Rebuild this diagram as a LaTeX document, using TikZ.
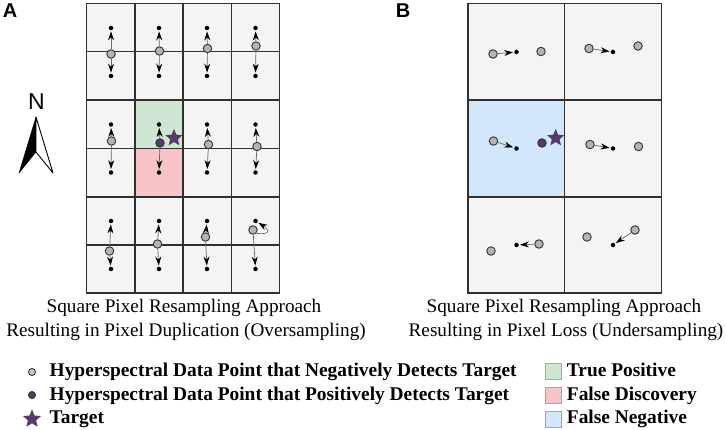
\documentclass[tikz,border=0pt]{standalone}
\usepackage{fontspec}
\setmainfont{Liberation Serif}
\newfontfamily\panelfont{Liberation Sans}
\usetikzlibrary{arrows.meta,shapes.geometric}
\definecolor{cellgray}{HTML}{F4F4F4}
\definecolor{cellgreen}{HTML}{CFE7D2}
\definecolor{cellpink}{HTML}{F8C5C6}
\definecolor{cellblue}{HTML}{D2E7FB}
\definecolor{ptgray}{HTML}{B4B4B4}
\definecolor{ptpurple}{HTML}{553A6B}
\definecolor{gridline}{HTML}{303030}
\begin{document}
\begin{tikzpicture}[x=1pt,y=-1pt,
		gridlines/.style={line width=1.2pt, color=gridline},
		dot/.style={circle, fill=black, inner sep=0pt, minimum size=4.5pt},
		negpoint/.style={circle, draw=black!80, line width=0.9pt, fill=ptgray, inner sep=0pt, minimum size=8.5pt},
		pospoint/.style={negpoint, fill=ptpurple},
		target/.style={star, star points=5, star point ratio=2.2, fill=ptpurple, inner sep=0pt, minimum size=18pt},
		link/.style={-{Stealth[black,length=9pt,width=6pt,inset=3pt]}, black!60, line width=0.7pt, shorten >=1pt},
		caption/.style={font=\fontsize{19.2}{19.2}\selectfont, inner sep=0pt, anchor=base},
		legend/.style={font=\fontsize{19.4}{19.4}\selectfont\bfseries, anchor=base west, inner sep=0pt},
		swatch/.style={draw=black!35, line width=0.7pt, inner sep=0pt, minimum width=16.5pt, minimum height=16pt},
		panel/.style={font=\fontsize{20}{20}\selectfont\panelfont\bfseries, inner sep=0pt}]
		\useasboundingbox (0,0) rectangle (726,430);

		% panel A
		\fill[cellgray] (86.5,3.5) rectangle (279.5,293);
		\fill[cellgreen] (135,100) rectangle (183,148.5);
		\fill[cellpink] (135,148.5) rectangle (183,197);
		\foreach \y/\z in {3.5/51.5,100/148.5,197/245} {
			\draw[gridlines] (86.5,\y) rectangle (279.5,\z+48);
			\draw[gridlines] (86.5,\z) -- (279.5,\z);
			\foreach \x in {135,183,231.5} \draw[gridlines] (\x,\y) -- (\x,\z+48);
		}
		\foreach \c/\x in {1/111,2/159,3/207,4/255.5}
			\foreach \r/\y in {1/28,2/76,3/124.5,4/172.5,5/221,6/269}
				\node[dot] (dA\c\r) at (\x,\y) {};
		\foreach \c/\r/\x/\y in {1/1/111/54,2/1/159.5/51,3/1/207.5/48.5,4/1/256/46,
				1/2/111.5/141,3/2/208.5/144.5,4/2/257/146.5,
				1/3/109.5/251,2/3/157.5/244,3/3/205.5/237,4/3/253/230}
			\node[negpoint] (pA\c\r) at (\x,\y) {};
		\node[pospoint] (pA22) at (160,143) {};
		\foreach \c in {1,...,4} {
			\draw[link] (pA\c1) -- (dA\c1);
			\draw[link] (pA\c1) -- (dA\c2);
			\draw[link] (pA\c2) -- (dA\c3);
			\draw[link] (pA\c2) -- (dA\c4);
			\draw[link] (pA\c3) -- (dA\c6);
		}
		\foreach \c in {1,2,3} \draw[link] (pA\c3) -- (dA\c5);
		\draw[link, fill=white] (pA43.south east) .. controls (261,234) and (268,234) .. (268,231) .. controls (267,228) and (262,225) .. (dA45);
		\node[target] (starA) at (174,138) {};

		% panel B
		\fill[cellgray] (468,3.5) rectangle (661.5,293);
		\fill[cellblue] (468,100) rectangle (564.7,197);
		\draw[gridlines] (468,3.5) rectangle (661.5,293);
		\draw[gridlines] (564.7,3.5) -- (564.7,293);
		\draw[gridlines] (468,100) -- (661.5,100);
		\draw[gridlines] (468,197) -- (661.5,197);
		\foreach \n/\x/\y in {1/516.5/52,2/613/52,3/516.5/148.5,4/613/148.5,5/516.5/245,6/613/245}
			\node[dot] (dB\n) at (\x,\y) {};
		\foreach \n/\x/\y in {1/493/54,2/541/51.5,3/589/48.5,4/638/46,
				5/493.5/141,7/590/144.5,8/638.5/146.5,
				9/491/251,10/539/244,11/587/237,12/635/230}
			\node[negpoint] (pB\n) at (\x,\y) {};
		\node[pospoint] (pB6) at (542,143) {};
		\foreach \p/\d in {1/1,3/2,5/3,7/4,10/5,12/6}
			\draw[link] (pB\p) -- (dB\d);
		\node[target] (starB) at (555.7,138) {};

		% labels
		\node[panel] (labelA) at (10,11) {A};
		\node[panel] (labelB) at (403,11) {B};
		\node[caption] (capA1) at (184,313) {Square Pixel Resampling Approach};
		\node[caption] (capA2) at (186,337) {Resulting in Pixel Duplication (Oversampling)};
		\node[caption] (capB1) at (564,313) {Square Pixel Resampling Approach};
		\node[caption] (capB2) at (566,337) {Resulting in Pixel Loss (Undersampling)};

		% north arrow
		\node[font=\fontsize{23}{23}\selectfont\panelfont, inner sep=0pt] (north) at (36.5,102) {N};
		\filldraw[black] (36,117) -- (19,173) -- (36,152) -- cycle;
		\draw[black, line width=0.9pt, fill=white, line join=round] (36,117) -- (53,173) -- (36,152) -- cycle;

		% legend
		\node[negpoint, fill=ptgray!70, minimum size=7pt] (keyneg) at (32,372) {};
		\node[pospoint, minimum size=7pt] (keypos) at (32,395) {};
		\node[target, minimum size=19pt] (keystar) at (32,419) {};
		\node[legend] (textneg) at (49.5,376.7) {Hyperspectral Data Point that Negatively Detects Target};
		\node[legend] (textpos) at (49.5,400) {Hyperspectral Data Point that Positively Detects Target};
		\node[legend] (textstar) at (49.5,423.3) {Target};
		\node[swatch, fill=cellgreen] (keytp) at (553.5,371.5) {};
		\node[swatch, fill=cellpink] (keyfd) at (553.5,395) {};
		\node[swatch, fill=cellblue] (keyfn) at (553.5,419) {};
		\node[legend] (texttp) at (566.7,376.7) {True Positive};
		\node[legend] (textfd) at (566.7,400) {False Discovery};
		\node[legend] (textfn) at (566.7,423.3) {False Negative};
	\end{tikzpicture}
\end{document}
